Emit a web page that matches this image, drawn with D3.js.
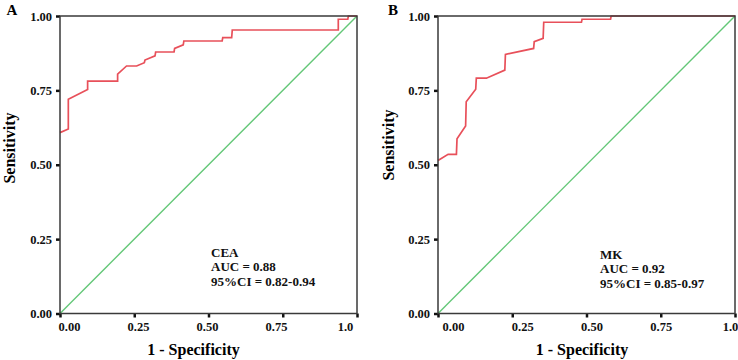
<!DOCTYPE html>
<html>
<head>
  <meta charset="utf-8">
  <title>ROC curves CEA / MK</title>
  <script src="https://cdn.jsdelivr.net/npm/d3@7/dist/d3.min.js"></script>
  <style>
    body { margin: 0; background: #fff; }
    svg { display: block; font-family: "Liberation Serif", "Times New Roman", serif; font-weight: bold; }
    .frame { fill: none; stroke: #3a3a3a; stroke-width: 1.5px; }
    .axis path { display: none; }
    .axis line { stroke: #111; stroke-width: 2.5px; }
    .axis text { font-family: "Liberation Serif", serif; font-weight: bold; font-size: 12.5px; fill: #111; }
    .roc { fill: none; stroke: #e8505a; stroke-width: 1.7px; }
    .ref { fill: none; stroke: #63c777; stroke-width: 1.4px; }
  </style>
</head>
<body>
<svg id="chart" width="738" height="360"></svg>
<script>
  // ROC points (1 - specificity, sensitivity)
  var ceaFpr = [0, 0.028, 0.028, 0.093, 0.093, 0.194, 0.194, 0.224, 0.258, 0.284, 0.286, 0.32, 0.322, 0.384, 0.386, 0.415, 0.417, 0.546, 0.548, 0.578, 0.580, 0.937, 0.937, 0.969, 0.971, 1];
  var ceaTpr = [0.608, 0.62, 0.72, 0.753, 0.781, 0.781, 0.805, 0.832, 0.832, 0.843, 0.852, 0.866, 0.879, 0.879, 0.891, 0.903, 0.916, 0.916, 0.927, 0.927, 0.953, 0.953, 0.989, 0.989, 1, 1];

  var mkFpr = [0, 0.034, 0.062, 0.064, 0.093, 0.095, 0.127, 0.129, 0.163, 0.225, 0.227, 0.322, 0.324, 0.354, 0.356, 0.483, 0.485, 0.581, 0.583, 1];
  var mkTpr = [0.514, 0.535, 0.535, 0.587, 0.63, 0.712, 0.754, 0.791, 0.791, 0.818, 0.871, 0.891, 0.914, 0.925, 0.979, 0.979, 0.989, 0.989, 1, 1];

  var tickValues = [0, 0.25, 0.5, 0.75, 1];
  var xTickLabels = ['0.00', '0.25', '0.50', '0.75', '1.0'];
  var yTickLabels = ['0.00', '0.25', '0.50', '0.75', '1.00'];

  var panels = [
    { letter: 'A', name: 'CEA', auc: '0.88', ci: '0.82-0.94', fpr: ceaFpr, tpr: ceaTpr,
      left: 60, labelRange: [69, 345], note: [211, 252], title: [12, 10], ylab: [9, 148], xlab: 193.5 },
    { letter: 'B', name: 'MK', auc: '0.92', ci: '0.85-0.97', fpr: mkFpr, tpr: mkTpr,
      left: 438, labelRange: [453, 730], note: [600, 254], title: [393, 10], ylab: [388, 145], xlab: 582 }
  ];

  var svg = d3.select('#chart');
  var plotTop = 16, plotBottom = 313.5, plotW = 297;

  panels.forEach(function (p) {
    var x = d3.scaleLinear().domain([0, 1]).range([p.left, p.left + plotW]);
    var y = d3.scaleLinear().domain([0, 1]).range([plotBottom, plotTop]);
    var xLab = d3.scaleLinear().domain([0, 1]).range(p.labelRange);

    var g = svg.append('g');

    // tick marks
    g.append('g').attr('class', 'axis')
      .attr('transform', 'translate(0,' + plotBottom + ')')
      .call(d3.axisBottom(x).tickValues(tickValues).tickSize(4).tickFormat(''));
    // x tick labels (sit a little off the marks in the original)
    g.append('g').attr('class', 'axis')
      .attr('transform', 'translate(0,' + plotBottom + ')')
      .call(d3.axisBottom(xLab).tickValues(tickValues).tickSize(0).tickPadding(9)
        .tickFormat(function (d, i) { return xTickLabels[i]; }))
      .selectAll('line').remove();

    g.append('g').attr('class', 'axis')
      .attr('transform', 'translate(' + p.left + ',0)')
      .call(d3.axisLeft(y).tickValues(tickValues).tickSize(4).tickPadding(4)
        .tickFormat(function (d, i) { return yTickLabels[i]; }));

    // reference diagonal
    g.append('path').attr('class', 'ref')
      .attr('d', d3.line()([[x(0), y(0)], [x(1), y(1)]]));

    // ROC curve
    var pts = p.fpr.map(function (f, i) { return [f, p.tpr[i]]; });
    g.append('path').attr('class', 'roc')
      .attr('d', d3.line().x(function (d) { return x(d[0]); }).y(function (d) { return y(d[1]); })(pts));

    g.append('rect').attr('class', 'frame')
      .attr('x', x(0)).attr('y', plotTop).attr('width', plotW).attr('height', plotBottom - plotTop);

    // panel letter
    g.append('text').attr('x', p.title[0]).attr('y', p.title[1]).attr('dy', '0.35em')
      .attr('text-anchor', 'middle').attr('font-size', 15).text(p.letter);

    // axis titles
    g.append('text')
      .attr('transform', 'translate(' + p.ylab[0] + ',' + p.ylab[1] + ') rotate(-90)')
      .attr('text-anchor', 'middle').attr('dy', '0.35em').attr('font-size', 16).text('Sensitivity');
    g.append('text').attr('x', p.xlab).attr('y', 349).attr('dy', '0.35em')
      .attr('text-anchor', 'middle').attr('font-size', 16).text('1 - Specificity');

    // annotation
    var note = g.append('text').attr('font-size', 13).attr('fill', '#111');
    [p.name, 'AUC = ' + p.auc, '95%CI = ' + p.ci].forEach(function (t, i) {
      note.append('tspan').attr('x', p.note[0]).attr('y', p.note[1] + i * 14.7).attr('dy', '0.35em').text(t);
    });
  });
</script>
</body>
</html>
